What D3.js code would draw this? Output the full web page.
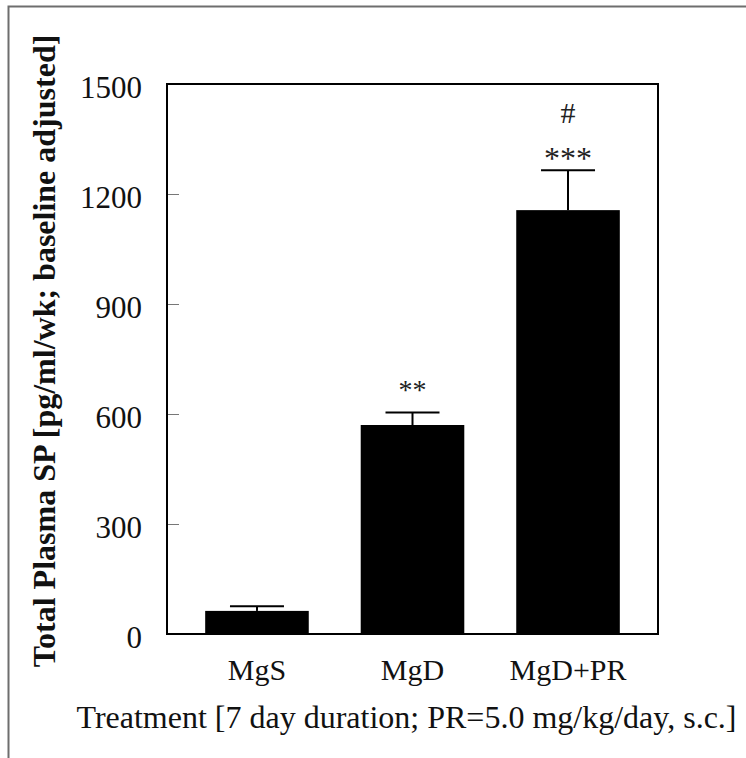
<!DOCTYPE html>
<html><head><meta charset="utf-8">
<script src="https://cdn.jsdelivr.net/npm/d3@7"></script>
<style>body{margin:0;background:#fff}svg{display:block}text{font-family:"Liberation Serif","Times New Roman",serif}</style>
</head><body>
<svg id="c" width="746" height="758"></svg>
<script>
const categories = ["MgS", "MgD", "MgD+PR"];
const means = [63, 570, 1156];
const errors = [13, 34, 109];
const marks = [[], ["**"], ["***", "#"]];
const yTicks = [0, 300, 600, 900, 1200, 1500];

const svg = d3.select("#c");
const L = 167, R = 658, T = 84, B = 634;

// outer border (top & left only visible)
svg.append("path").attr("d", "M8.5,758V6.5H746").attr("fill","none").attr("stroke","#6e6e6e").attr("stroke-width",2);

const x = d3.scaleBand().domain(categories).range([L, R]).paddingInner(0.334).paddingOuter(0.2455);
const y = d3.scaleLinear().domain([0, 1500]).range([B, T]);

// ticks (inward)
const yAxis = d3.axisRight(y).tickValues(yTicks).tickSize(12).tickFormat("");
const gy = svg.append("g").attr("transform", `translate(${L},0)`).call(yAxis);
gy.select(".domain").remove();
gy.selectAll(".tick line").attr("stroke", "#777").attr("stroke-width", 1);

// tick labels
svg.append("g").selectAll("text").data(yTicks).join("text")
  .attr("x", L - 25).attr("y", d => y(d) + 14)
  .attr("text-anchor", "end").attr("font-size", 31).attr("fill", "#111")
  .text(d => d);

// bars
svg.append("g").selectAll("rect").data(means).join("rect")
  .attr("x", (d,i) => x(categories[i])).attr("width", x.bandwidth())
  .attr("y", d => y(d)).attr("height", d => y(0) - y(d)).attr("fill", "#000");

// error bars
const eg = svg.append("g").attr("stroke", "#000").attr("stroke-width", 2);
means.forEach((m, i) => {
  const cx = x(categories[i]) + x.bandwidth() / 2;
  eg.append("line").attr("x1", cx).attr("x2", cx).attr("y1", y(m)).attr("y2", y(m + errors[i]));
  eg.append("line").attr("x1", cx - 27).attr("x2", cx + 27).attr("y1", y(m + errors[i])).attr("y2", y(m + errors[i]));
});

// significance marks
means.forEach((m, i) => {
  const cx = x(categories[i]) + x.bandwidth() / 2;
  const top = y(m + errors[i]);
  marks[i].forEach((s, k) => {
    const isStar = s.startsWith("*");
    const fs = isStar ? (s.length === 2 ? 28 : 32) : 30;
    const base = k === 0 ? top - (s.length === 2 ? 14 : 1) : top - 47;
    svg.append("text").attr("x", cx).attr("y", base).attr("text-anchor", "middle")
      .attr("font-size", fs).attr("fill", "#222").text(s);
  });
});

// frame
svg.append("rect").attr("x", L).attr("y", T).attr("width", R - L).attr("height", B - T)
  .attr("fill", "none").attr("stroke", "#000").attr("stroke-width", 2);

// category labels
svg.append("g").selectAll("text").data(categories).join("text")
  .attr("x", d => x(d) + x.bandwidth() / 2).attr("y", 680)
  .attr("text-anchor", "middle").attr("font-size", 30).attr("fill", "#111").text(d => d);

// axis titles
svg.append("text").attr("x", 406.5).attr("y", 728).attr("text-anchor", "middle")
  .attr("font-size", 32).attr("fill", "#111")
  .text("Treatment [7 day duration; PR=5.0 mg/kg/day, s.c.]");

svg.append("text").attr("transform", "translate(55,351) rotate(-90)").attr("text-anchor", "middle")
  .attr("font-size", 32).attr("font-weight", "bold").attr("fill", "#111")
  .text("Total Plasma SP [pg/ml/wk; baseline adjusted]");
</script>
</body></html>
